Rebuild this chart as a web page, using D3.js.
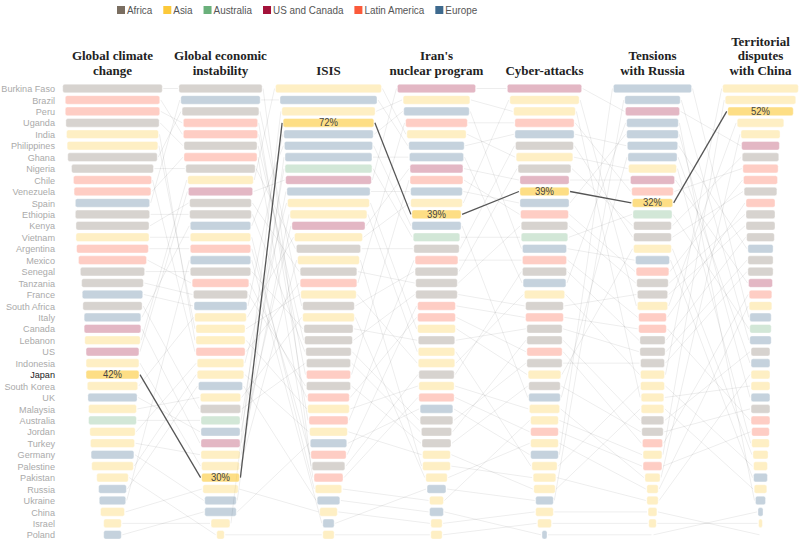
<!DOCTYPE html>
<html><head><meta charset="utf-8">
<script src="https://cdn.jsdelivr.net/npm/d3@7"></script>
<style>body{margin:0;background:#fff}svg{display:block}</style>
</head><body>
<svg id="c" width="800" height="545"></svg>
<script>
// ---- DATA ----
const regionNames = ["Africa","Asia","Australia","US and Canada","Latin America","Europe"];
const regionColors = ["#7a6e61","#fcc93a","#6ab07b","#a3123a","#fb5a3a","#3e6a8e"];
const africa = ["Burkina Faso","Uganda","Ghana","Nigeria","Ethiopia","Kenya","Senegal","Tanzania","South Africa"];
const asia = ["India","Philippines","Vietnam","Lebanon","Indonesia","Japan","South Korea","Malaysia","Jordan","Turkey","Palestine","Pakistan","China","Israel"];
const australia = ["Australia"];
const usCanada = ["US","Canada"];
const latinAmerica = ["Brazil","Peru","Chile","Venezuela","Argentina","Mexico"];
const europe = ["Spain","France","Italy","UK","Germany","Russia","Ukraine","Poland"];
const regionMembers = [africa, asia, australia, usCanada, latinAmerica, europe];

const threatTitles = [["Global climate","change"],["Global economic","instability"],["ISIS"],["Iran's","nuclear program"],["Cyber-attacks"],["Tensions","with Russia"],["Territorial","disputes","with China"]];

const climateOrder = ["Burkina Faso","Brazil","Peru","Uganda","India","Philippines","Ghana","Nigeria","Chile","Venezuela","Spain","Ethiopia","Kenya","Vietnam","Argentina","Mexico","Senegal","Tanzania","France","South Africa","Italy","Canada","Lebanon","US","Indonesia","Japan","South Korea","UK","Malaysia","Australia","Jordan","Turkey","Germany","Palestine","Pakistan","Russia","Ukraine","China","Israel","Poland"];
const climateValues = [79,75,75,74,73,72,71,65,62,61,59,59,58,58,57,54,51,49,48,47,45,45,44,42,42,42,40,39,38,38,36,35,34,33,25,22,21,19,14,14];

const economyOrder = ["Burkina Faso","Spain","Ghana","Peru","Brazil","Uganda","Venezuela","Nigeria","Lebanon","US","Kenya","Ethiopia","Italy","Vietnam","Argentina","Ukraine","Senegal","Mexico","Tanzania","France","South Korea","Philippines","India","Chile","Jordan","Palestine","Russia","Malaysia","South Africa","Australia","UK","Canada","Turkey","Indonesia","Japan","China","Germany","Poland","Israel","Pakistan"];
const economyValues = [66,63,61,59,59,58,58,55,52,51,49,49,48,48,48,48,48,45,43,42,41,39,39,39,37,37,35,32,32,31,31,31,31,30,30,28,25,25,15,6];

const isisOrder = ["Lebanon","Spain","Israel","Japan","France","Italy","Germany","Australia","US","UK","Jordan","Turkey","Canada","South Korea","Nigeria","Indonesia","Kenya","Chile","Philippines","Ghana","Malaysia","Senegal","Uganda","Ethiopia","South Africa","Brazil","Tanzania","Mexico","India","Peru","Palestine","Poland","Argentina","Burkina Faso","Venezuela","Vietnam","Russia","China","Ukraine","Pakistan"];
const isisValues = [84,77,74,72,71,70,69,69,68,66,65,61,58,54,51,49,45,45,44,41,41,39,38,36,35,35,35,33,33,31,30,29,28,26,23,21,18,14,9,9];

const iranOrder = ["US","Israel","France","Chile","Lebanon","Spain","Germany","Canada","Brazil","UK","South Korea","Japan","Italy","Australia","Nigeria","Peru","Ghana","Kenya","Uganda","Argentina","Mexico","Jordan","Senegal","Turkey","Philippines","Burkina Faso","India","Venezuela","Poland","Ethiopia","South Africa","Tanzania","Palestine","Indonesia","Malaysia","Ukraine","Vietnam","Russia","China","Pakistan"];
const iranValues = [62,53,52,49,47,44,43,42,42,41,41,39,39,37,36,34,34,33,33,30,30,30,29,29,29,28,28,28,26,26,24,23,22,22,17,15,11,11,9,9];

const cyberOrder = ["US","South Korea","Israel","Chile","Spain","Nigeria","Lebanon","Ghana","Canada","Japan","UK","Brazil","Kenya","Australia","France","Peru","Burkina Faso","Germany","Philippines","Uganda","Argentina","Senegal","South Africa","Mexico","Ethiopia","Jordan","Tanzania","Italy","India","Vietnam","Venezuela","Malaysia","Poland","Turkey","Indonesia","Palestine","Ukraine","China","Pakistan","Russia"];
const cyberValues = [59,55,49,47,47,46,45,42,39,39,39,38,37,37,35,35,35,34,32,30,30,28,28,28,28,26,25,25,24,22,22,22,22,20,18,17,14,14,11,4];

const russiaOrder = ["Poland","Ukraine","US","Germany","UK","Spain","Italy","Lebanon","Canada","Chile","Japan","Australia","Ghana","Nigeria","Jordan","France","Brazil","Kenya","Uganda","South Korea","Peru","Argentina","Burkina Faso","Senegal","Ethiopia","Philippines","Turkey","Israel","Palestine","South Africa","Tanzania","Mexico","Vietnam","Venezuela","India","Malaysia","Indonesia","China","Pakistan","Russia"];
const russiaValues = [62,44,43,41,41,40,39,38,35,33,32,31,30,30,30,27,26,25,24,24,22,22,20,20,19,19,19,18,18,18,17,16,15,15,12,9,9,7,6,0];

const chinaOrder = ["Philippines","Vietnam","Japan","South Korea","India","US","Ghana","Chile","Brazil","Nigeria","Peru","Kenya","Uganda","Burkina Faso","Spain","Senegal","Ethiopia","Canada","Mexico","Malaysia","Poland","Australia","Ukraine","South Africa","Italy","Indonesia","Israel","UK","Tanzania","Argentina","Venezuela","Lebanon","Jordan","Turkey","France","Palestine","Germany","Russia","Pakistan","China"];
const chinaValues = [60,56,52,37,31,30,29,28,27,26,23,23,23,22,20,20,20,19,18,18,17,17,17,15,15,15,15,15,15,15,14,14,12,11,11,10,8,4,3,0];

const highlight = "Japan";

// ---- CHART ----
const columns = [
  {order: climateOrder, values: climateValues},
  {order: economyOrder, values: economyValues},
  {order: isisOrder, values: isisValues},
  {order: iranOrder, values: iranValues},
  {order: cyberOrder, values: cyberValues},
  {order: russiaOrder, values: russiaValues},
  {order: chinaOrder, values: chinaValues}
].map((c, i) => {
  const m = new Map();
  c.order.forEach((name, r) => m.set(name, {rank: r, value: c.values[r]}));
  return {...c, title: threatTitles[i], map: m};
});

const regionOf = new Map();
regionMembers.forEach((list, i) => list.forEach(n => regionOf.set(n, regionNames[i])));
const color = d3.scaleOrdinal().domain(regionNames).range(regionColors);

const svg = d3.select("#c");
const x = d3.scalePoint().domain(d3.range(columns.length)).range([112.5, 760.5]);
const y = d3.scalePoint().domain(d3.range(climateOrder.length)).range([88.5, 534.8]);
const w = d3.scaleLinear().domain([0, 100]).range([0, 126]);
const barH = 8.6;
const sans = "'Liberation Sans',Arial,sans-serif";

// helper: slightly condensed text anchored at (tx, ty)
function ctext(parent, tx, ty, str, anchor, size, fill, sq) {
  return parent.append("text")
    .attr("transform", `translate(${tx},${ty}) scale(${sq},1)`)
    .attr("text-anchor", anchor).attr("font-family", sans).attr("font-size", size)
    .attr("fill", fill).text(str);
}

// legend
const leg = svg.append("g");
let lx = 117;
regionNames.forEach((r) => {
  leg.append("rect").attr("x", lx).attr("y", 6).attr("width", 8).attr("height", 8).attr("fill", color(r));
  const t = ctext(leg, lx + 10, 14, r, "start", 11, "#555", 0.9);
  lx += 10 + t.node().getComputedTextLength() * 0.9 + 11;
});

// titles
const titles = svg.append("g").attr("font-family", "'Liberation Serif',serif").attr("font-weight", "bold")
  .attr("font-size", 13).attr("fill", "#222").attr("text-anchor", "middle");
columns.forEach((c, i) => {
  const n = c.title.length;
  c.title.forEach((line, k) => {
    titles.append("text").attr("x", x(i)).attr("y", 75 - (n - 1 - k) * 14.6).text(line);
  });
});

// connecting lines
const lineG = svg.append("g").attr("fill", "none");
const segs = [];
for (let i = 0; i < columns.length - 1; i++) {
  climateOrder.forEach(name => {
    const a = columns[i].map.get(name), b = columns[i + 1].map.get(name);
    segs.push({name, x1: x(i) + w(a.value) / 2 + 1, y1: y(a.rank), x2: x(i + 1) - w(b.value) / 2 - 1, y2: y(b.rank)});
  });
}
lineG.selectAll("line.g").data(segs.filter(s => s.name !== highlight)).join("line")
  .attr("x1", d => d.x1).attr("y1", d => d.y1).attr("x2", d => d.x2).attr("y2", d => d.y2)
  .attr("stroke", "#000").attr("stroke-opacity", 0.07).attr("stroke-width", 1);
lineG.selectAll("line.h").data(segs.filter(s => s.name === highlight)).join("line")
  .attr("x1", d => d.x1).attr("y1", d => d.y1).attr("x2", d => d.x2).attr("y2", d => d.y2)
  .attr("stroke", "#555").attr("stroke-width", 1.3);

// bars
columns.forEach((c, i) => {
  const g = svg.append("g");
  const rows = c.order.map((name, r) => ({name, rank: r, value: c.values[r]}));
  g.selectAll("rect").data(rows).join("rect")
    .attr("x", d => x(i) - w(d.value) / 2).attr("y", d => y(d.rank) - barH / 2)
    .attr("width", d => w(d.value)).attr("height", barH).attr("rx", 2)
    .attr("fill", d => color(regionOf.get(d.name)))
    .attr("fill-opacity", d => d.name === highlight ? 0.62 : 0.3)
    .attr("stroke", "#fff").attr("stroke-opacity", 0.5).attr("stroke-width", 0.8);
  const h = rows.find(d => d.name === highlight);
  ctext(g, x(i), y(h.rank) + 3.5, h.value + "%", "middle", 10, "#444", 0.95);
});

// country labels
const lab = svg.append("g");
climateOrder.forEach((name, r) => {
  ctext(lab, 55, y(r) + 3.6, name, "end", 9.8, name === highlight ? "#222" : "#aaa", 0.93);
});
</script>
</body></html>
